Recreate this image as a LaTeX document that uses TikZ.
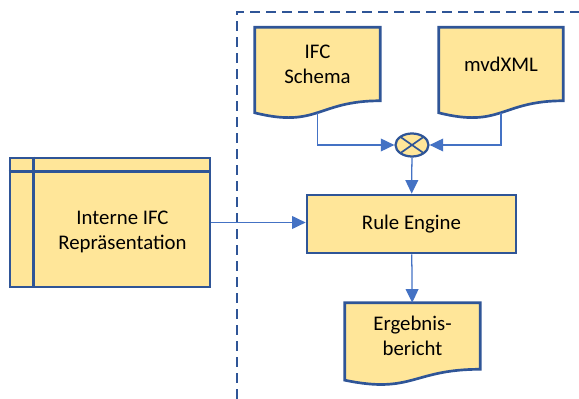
\documentclass[tikz,border=0pt]{standalone}
\usepackage{fontspec}
\setmainfont{Carlito}
\usepackage{xcolor}
\usetikzlibrary{arrows.meta,positioning,calc,backgrounds,shapes.geometric}
\definecolor{ifcFill}{HTML}{FFE699}
\definecolor{ifcLine}{HTML}{2F5597}
\definecolor{ifcArrow}{HTML}{4472C4}
\newcommand{\px}{0.025cm}
% document shape under a node: wave depth, left end, point on the wave
\newcommand{\docwave}[4]{%
  \begin{scope}[on background layer]
    \draw[docline] (#1.north west) -- (#1.north east) -- (#1.south east)
      .. controls (#1.south) and ($(#1.south)+(0,#2)$) .. ($(#1.south west)+(0,#3)$) -- cycle;
  \end{scope}
  \coordinate (#1-b) at ($(#1.south)+(0,#4)$);}

\begin{document}
\begin{tikzpicture}[x=\px,y=-\px,font=\fontsize{14.8}{17.8}\selectfont,
  box/.style={draw=ifcLine, fill=ifcFill, line width=1.9pt, align=center, inner sep=0pt},
  doc/.style={align=center, inner sep=0pt},
  docline/.style={draw=ifcLine, fill=ifcFill, line width=1.9pt},
  flow/.style={draw=ifcArrow, line width=0.9pt, -{Triangle[length=0.34cm,width=0.32cm]}},
  frame/.style={draw=ifcLine, line width=1.8pt, dash pattern=on 0.25cm off 0.15cm}]
\useasboundingbox (0,0) rectangle (579,399);
% rule engine frame
\draw[frame] (237,399) |- (579,12);
% inputs
\node[doc, minimum width=125*\px, minimum height=73*\px] (schema) at (317.5,64) {IFC\\Schema};
\docwave{schema}{27.7}{12}{12}
\node[doc, minimum width=124*\px, minimum height=73*\px] (mvd) at (501,64) {mvdXML};
\docwave{mvd}{27.7}{12}{12}
\node[ellipse, draw=ifcLine, fill=ifcFill, line width=1.6pt, minimum width=33*\px,
  minimum height=23*\px, inner sep=0pt,
  path picture={\draw[ifcLine, line width=1.2pt]
    (path picture bounding box.north west) -- (path picture bounding box.south east)
    (path picture bounding box.north east) -- (path picture bounding box.south west);}]
  (mix) at (412,145) {};
\node[box, minimum width=209*\px, minimum height=58*\px] (rule) at (411.5,224) {Rule Engine};
\node[doc, minimum width=135*\px, minimum height=66*\px] (report) at (412.5,336) {Ergebnis-\\bericht};
\docwave{report}{25}{10.9}{10.8}
% internal store
\node[box, minimum width=200*\px, minimum height=129*\px] (intern) at (110,222.5) {};
\draw[ifcLine, line width=1.9pt] ($(intern.north west)+(0,15)$) -- ($(intern.north east)+(0,15)$)
  ($(intern.north west)+(25,0)$) -- ($(intern.south west)+(25,0)$);
\node[doc] (intern-t) at (122.5,232) {Interne IFC\\Repräsentation};
% connectors
\draw[flow] (schema-b) |- (mix.west);
\draw[flow] (mvd-b) |- (mix.east);
\draw[flow] (mix) -- (rule);
\draw[flow] (rule) -- (report);
\draw[flow] (intern.east) -- (intern.east -| rule.west);
\end{tikzpicture}
\end{document}
